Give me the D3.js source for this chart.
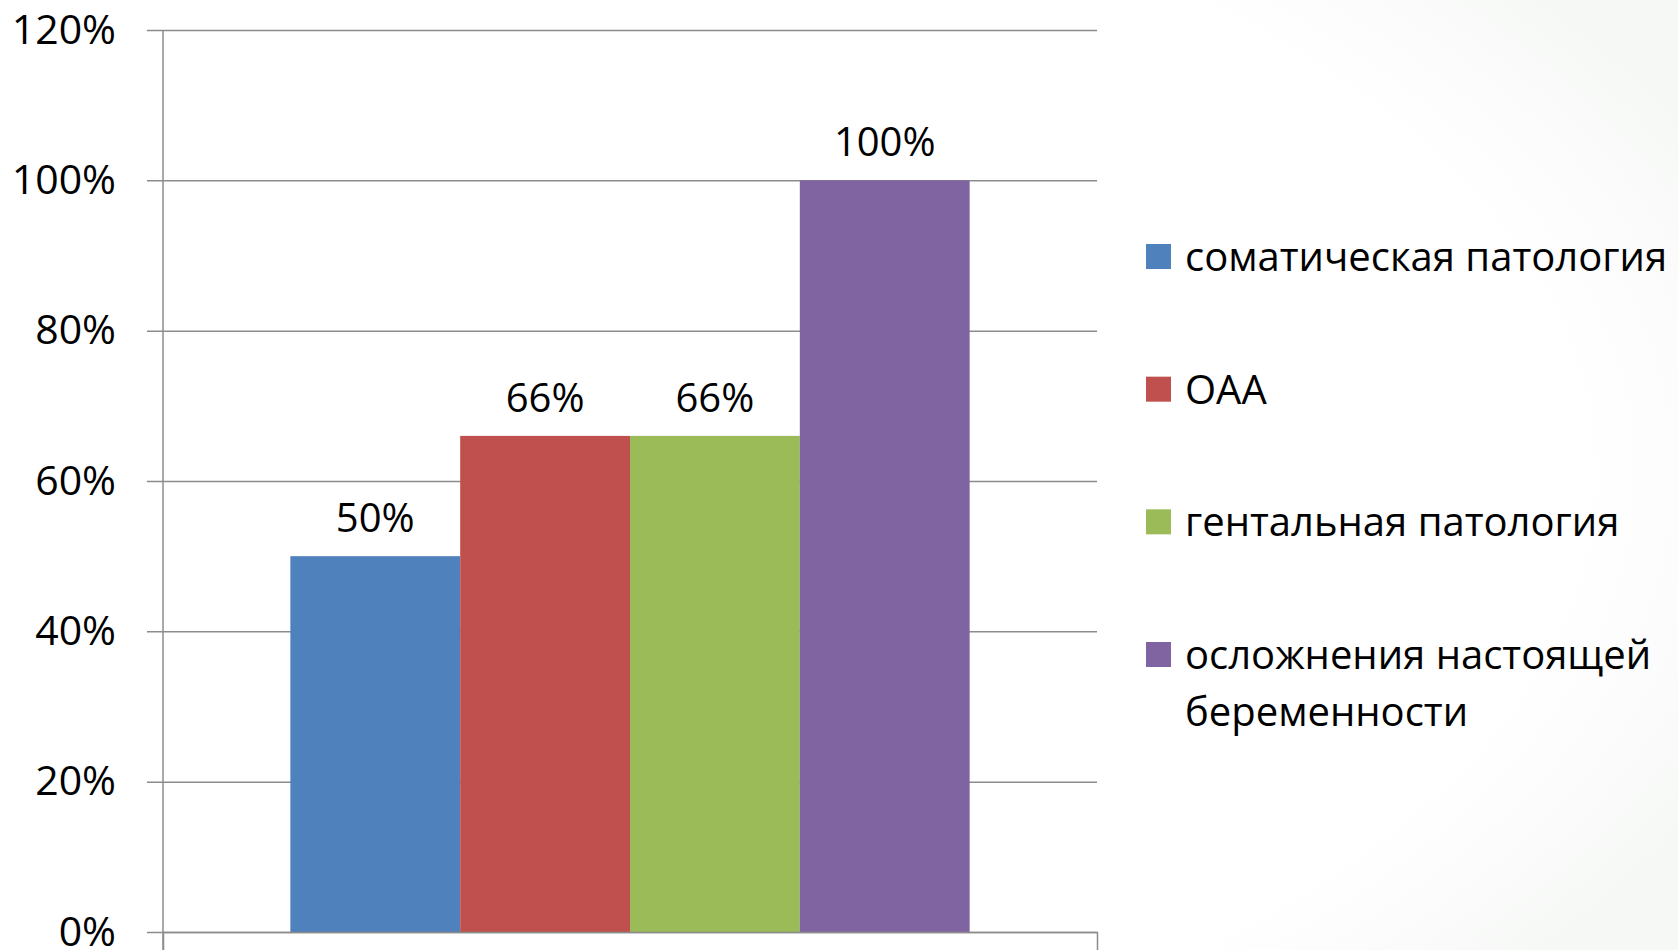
<!DOCTYPE html>
<html>
<head>
<meta charset="utf-8">
<script src="https://cdn.jsdelivr.net/npm/d3@7"></script>
<style>
  html, body { margin: 0; padding: 0; background: #fff; }
  svg { display: block; }
  text { font-family: "Open Sans", "Liberation Sans", sans-serif; fill: #000; }
</style>
</head>
<body>
<svg id="chart" width="1678" height="950"></svg>
<script>
// chart data
var seriesNames = [
    "соматическая патология",
    "ОАА",
    "гентальная патология",
    "осложнения настоящей беременности"
];
var seriesValues = [0.50, 0.66, 0.66, 1.00];
var seriesColors = ["#4F81BD", "#C0504D", "#9BBB59", "#8064A2"];
var yTicks = [0, 0.2, 0.4, 0.6, 0.8, 1.0, 1.2];
// legend line breaks as in the original
var legendLines = [
    ["соматическая патология"],
    ["ОАА"],
    ["гентальная патология"],
    ["осложнения настоящей", "беременности"]
];

var svg = d3.select("#chart");

// very faint slide background tint towards the right edge
var defs = svg.append("defs");
var grad = defs.append("radialGradient").attr("id", "bg")
    .attr("cx", "30%").attr("cy", "50%").attr("r", "80%");
grad.append("stop").attr("offset", "80%").attr("stop-color", "#ffffff");
grad.append("stop").attr("offset", "100%").attr("stop-color", "#f6f8f6");
svg.append("rect").attr("width", 1678).attr("height", 950).attr("fill", "url(#bg)");

// plot area
var plot = { left: 163, right: 1097, top: 30, bottom: 932 };

var y = d3.scaleLinear().domain([0, 1.2]).range([plot.bottom, plot.top]);

var x0 = d3.scaleBand().domain([""])
    .range([plot.left, plot.right])
    .paddingInner(0).paddingOuter(0.1875);

var x1 = d3.scaleBand().domain(seriesNames)
    .range([0, x0.bandwidth()]).padding(0);

var g = svg.append("g");

// white plot background
g.append("rect")
    .attr("x", plot.left).attr("y", plot.top)
    .attr("width", plot.right - plot.left).attr("height", plot.bottom - plot.top)
    .attr("fill", "#fff");

// gridlines + tick labels
var yAxis = d3.axisLeft(y)
    .tickValues(yTicks)
    .tickFormat(d3.format(".0%"))
    .tickSize(-(plot.right - plot.left + 16))
    .tickPadding(31);

var yg = g.append("g")
    .attr("transform", "translate(" + (plot.left - 16) + ",0)")
    .call(yAxis);
yg.select(".domain").remove();
yg.selectAll(".tick line").attr("stroke", "#8c8c8c").attr("stroke-width", 1.5);
yg.selectAll(".tick text")
    .attr("font-size", 41)
    .attr("fill", "#000")
    .style("font-family", "'Open Sans', sans-serif");

// bars
g.selectAll("rect.bar")
    .data(seriesValues)
    .enter().append("rect")
    .attr("class", "bar")
    .attr("x", function(d, i){ return x0("") + x1(seriesNames[i]); })
    .attr("y", function(d){ return y(d); })
    .attr("width", x1.bandwidth())
    .attr("height", function(d){ return y(0) - y(d); })
    .attr("fill", function(d, i){ return seriesColors[i]; });

// value labels
g.selectAll("text.val")
    .data(seriesValues)
    .enter().append("text")
    .attr("class", "val")
    .attr("x", function(d, i){ return x0("") + x1(seriesNames[i]) + x1.bandwidth() / 2; })
    .attr("y", function(d){ return y(d) - 24; })
    .attr("text-anchor", "middle")
    .attr("font-size", 40)
    .text(d3.format(".0%"));

// y axis line and category axis with ticks
var xAxis = d3.axisBottom(x0).tickValues([]).tickSizeOuter(18);
var xg = g.append("g")
    .attr("transform", "translate(0," + plot.bottom + ")")
    .call(xAxis);
xg.select(".domain").attr("stroke", "#8c8c8c").attr("stroke-width", 1.5);

g.append("line")
    .attr("x1", plot.left).attr("x2", plot.left)
    .attr("y1", plot.top).attr("y2", plot.bottom + 18)
    .attr("stroke", "#8c8c8c").attr("stroke-width", 1.5);

// legend
var legend = svg.append("g").attr("transform", "translate(1146,0)");
var legendY = d3.scalePoint().domain(seriesNames).range([257, 655]);

var items = legend.selectAll("g.item")
    .data(seriesNames)
    .enter().append("g")
    .attr("class", "item")
    .attr("transform", function(d){ return "translate(0," + legendY(d) + ")"; });

items.append("rect")
    .attr("x", 0).attr("y", -13)
    .attr("width", 25).attr("height", 25)
    .attr("fill", function(d, i){ return seriesColors[i]; });

items.append("text")
    .attr("x", 39)
    .attr("font-size", 40)
    .selectAll("tspan")
    .data(function(d, i){ return legendLines[i]; })
    .enter().append("tspan")
    .attr("x", 39)
    .attr("y", function(d, j){ return 14 + j * 57; })
    .text(function(d){ return d; });
</script>
</body>
</html>
